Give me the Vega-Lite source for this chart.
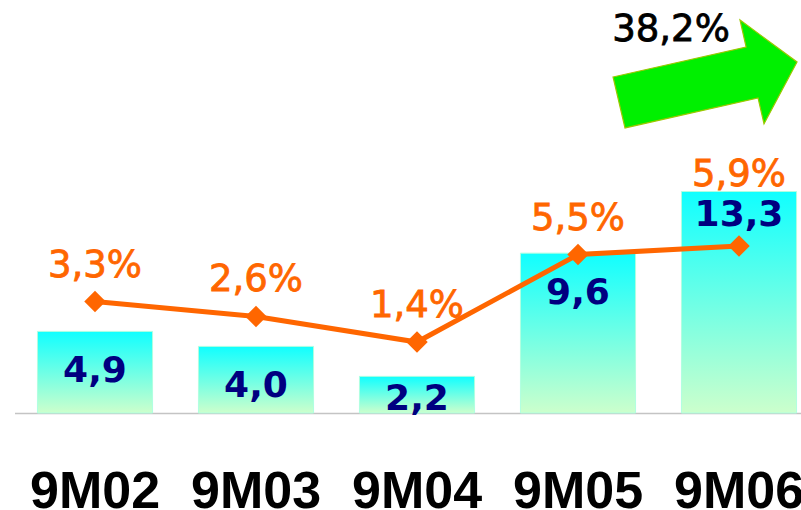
{
  "$schema": "https://vega.github.io/schema/vega-lite/v6.json",
  "width": 805,
  "height": 413,
  "autosize": {"type": "none"},
  "padding": {"left": 14.5, "top": 0, "right": 0, "bottom": 97},
  "background": "white",
  "config": {"view": {"stroke": null}},
  "data": {
    "values": [
      {"period": "9M02", "value": 4.9, "label": "4,9", "pct": 3.3, "pctLabel": "3,3%"},
      {"period": "9M03", "value": 4.0, "label": "4,0", "pct": 2.6, "pctLabel": "2,6%"},
      {"period": "9M04", "value": 2.2, "label": "2,2", "pct": 1.4, "pctLabel": "1,4%"},
      {"period": "9M05", "value": 9.6, "label": "9,6", "pct": 5.5, "pctLabel": "5,5%"},
      {"period": "9M06", "value": 13.3, "label": "13,3", "pct": 5.9, "pctLabel": "5,9%"}
    ]
  },
  "resolve": {"scale": {"y": "independent"}},
  "encoding": {
    "x": {
      "field": "period",
      "type": "nominal",
      "sort": null,
      "scale": {"domain": ["9M02", "9M03", "9M04", "9M05", "9M06"], "paddingInner": 0.285, "paddingOuter": 0.1425},
      "axis": {
        "title": null,
        "labelAngle": 0,
        "labelFont": "Liberation Sans",
        "labelFontWeight": "bold",
        "labelFontSize": 52,
        "labelColor": "#000000",
        "labelPadding": 94,
        "labelBaseline": "alphabetic",
        "ticks": false,
        "tickSize": 0,
        "domainColor": "#C4C4C4",
        "domainWidth": 1.5,
        "labelOverlap": false,
        "labelBound": false,
        "labelFlush": false
      }
    }
  },
  "layer": [
    {
      "mark": {
        "type": "bar",
        "color": {
          "gradient": "linear",
          "x1": 0, "y1": 0, "x2": 0, "y2": 1,
          "stops": [
            {"offset": 0, "color": "#10FFFF"},
            {"offset": 1, "color": "#CCFFCC"}
          ]
        },
        "stroke": "#B0FFE0",
        "strokeWidth": 1
      },
      "encoding": {
        "y": {"field": "value", "type": "quantitative", "scale": {"domain": [0, 24.8], "nice": false, "zero": true}, "axis": null}
      }
    },
    {
      "transform": [{"filter": {"field": "period", "oneOf": ["9M02", "9M03", "9M05"]}}],
      "mark": {"type": "text", "font": "DejaVu Sans", "fontWeight": "bold", "fontSize": 36, "color": "#000080", "baseline": "middle", "align": "center", "dy": 40},
      "encoding": {
        "y": {"field": "value", "type": "quantitative", "scale": {"domain": [0, 24.8], "nice": false, "zero": true}, "axis": null},
        "text": {"field": "label"}
      }
    },
    {
      "transform": [{"filter": {"field": "period", "oneOf": ["9M04", "9M06"]}}],
      "mark": {"type": "text", "font": "DejaVu Sans", "fontWeight": "bold", "fontSize": 36, "color": "#000080", "baseline": "middle", "align": "center", "dy": 23},
      "encoding": {
        "y": {"field": "value", "type": "quantitative", "scale": {"domain": [0, 24.8], "nice": false, "zero": true}, "axis": null},
        "text": {"field": "label"}
      }
    },
    {
      "mark": {"type": "line", "color": "#FF6600", "strokeWidth": 5},
      "encoding": {
        "y": {"field": "pct", "type": "quantitative", "scale": {"domain": [-1.927, 17.436], "nice": false, "zero": false}, "axis": null}
      }
    },
    {
      "mark": {"type": "point", "shape": "diamond", "filled": true, "size": 460, "color": "#FF6600", "opacity": 1},
      "encoding": {
        "y": {"field": "pct", "type": "quantitative", "scale": {"domain": [-1.927, 17.436], "nice": false, "zero": false}, "axis": null}
      }
    },
    {
      "transform": [{"filter": {"not": {"field": "period", "equal": "9M06"}}}],
      "mark": {"type": "text", "font": "DejaVu Sans", "fontSize": 37, "color": "#FF6600", "stroke": "#FF6600", "strokeWidth": 0.8, "baseline": "middle", "align": "center", "dy": -36},
      "encoding": {
        "y": {"field": "pct", "type": "quantitative", "scale": {"domain": [-1.927, 17.436], "nice": false, "zero": false}, "axis": null},
        "text": {"field": "pctLabel"}
      }
    },
    {
      "transform": [{"filter": {"field": "period", "equal": "9M06"}}],
      "mark": {"type": "text", "font": "DejaVu Sans", "fontSize": 37, "color": "#FF6600", "stroke": "#FF6600", "strokeWidth": 0.8, "baseline": "middle", "align": "center", "dy": -71},
      "encoding": {
        "y": {"field": "pct", "type": "quantitative", "scale": {"domain": [-1.927, 17.436], "nice": false, "zero": false}, "axis": null},
        "text": {"field": "pctLabel"}
      }
    },
    {
      "data": {"values": [{"period": "9M06", "value": 20.36}]},
      "mark": {
        "type": "point",
        "shape": "M-1,0.033L0.446,-0.293L0.38,-0.587L1,-0.13L0.641,0.543L0.576,0.261L-0.87,0.587Z",
        "filled": true,
        "size": 33856,
        "fill": "#00F000",
        "stroke": "#9CC800",
        "strokeWidth": 1.2,
        "opacity": 1
      },
      "encoding": {
        "x": {"field": "period", "type": "nominal", "bandPosition": 0.205},
        "y": {"field": "value", "type": "quantitative", "scale": {"domain": [0, 24.8], "nice": false, "zero": true}, "axis": null}
      }
    },
    {
      "data": {"values": [{"period": "9M06", "value": 23.0, "label": "38,2%"}]},
      "mark": {"type": "text", "font": "DejaVu Sans", "fontSize": 37, "color": "#000000", "stroke": "#000000", "strokeWidth": 0.8, "baseline": "middle", "align": "right"},
      "encoding": {
        "x": {"field": "period", "type": "nominal", "bandPosition": 0.42},
        "y": {"field": "value", "type": "quantitative", "scale": {"domain": [0, 24.8], "nice": false, "zero": true}, "axis": null},
        "text": {"field": "label"}
      }
    }
  ]
}
